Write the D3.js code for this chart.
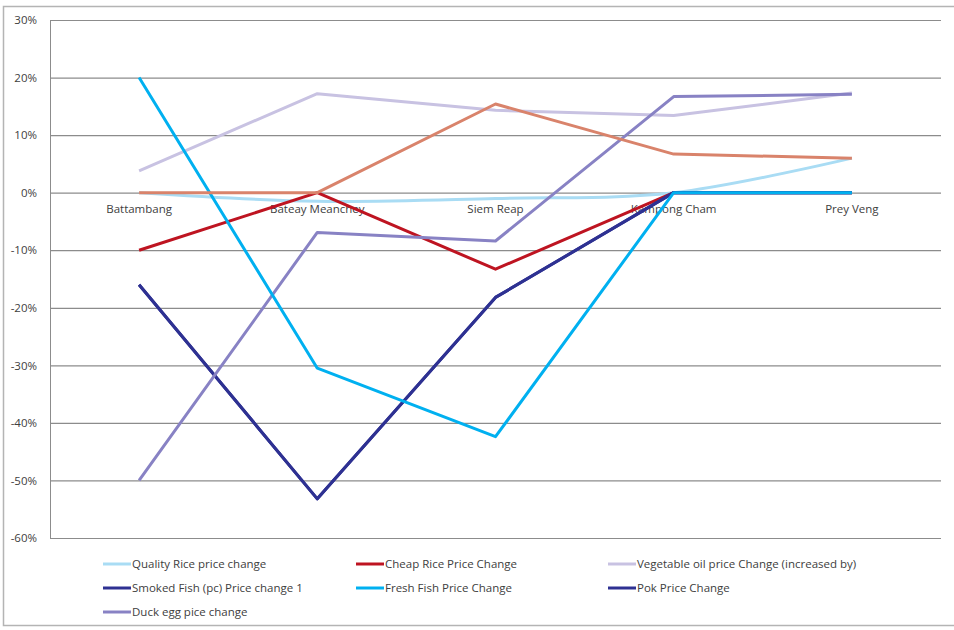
<!DOCTYPE html>
<html>
<head>
<meta charset="utf-8">
<script src="https://cdn.jsdelivr.net/npm/d3@7"></script>
<style>
  body { margin: 0; background: #fff; }
  svg text { font-family: "Open Sans", "Noto Sans", sans-serif; fill: #404040; }
</style>
</head>
<body>
<svg id="chart"></svg>
<script>
// Districts on the x axis
const districts = ['Battambang', 'Bateay Meanchey', 'Siem Reap', 'Kampong Cham', 'Prey Veng'];

// Price change per district, in percent
const qualityRice = [0, -1.5, -1.0, 0, 6.0];
const cheapRice = [-10.0, 0, -13.3, 0, 0];
const vegetableOil = [3.8, 17.2, 14.3, 13.4, 17.3];
const smokedFish = [-16.0, -53.2, -18.2, 0, 0];
const freshFish = [20.0, -30.5, -42.4, 0, 0];
const pok = [-16.0, -53.2, -18.2, 0, 0];
const duckEgg = [-50.0, -6.9, -8.4, 16.7, 17.1];
const unlabelled = [0, 0, 15.4, 6.7, 6.0];

const yTicks = [30, 20, 10, 0, -10, -20, -30, -40, -50, -60];

// legend order; 'z' is the drawing order (fresh fish ends up on top of the 0% run)
const series = [
   { name: 'Quality Rice price change', values: qualityRice, color: '#a9dcf4', smooth: true, z: 0 },
   { name: 'Cheap Rice Price Change', values: cheapRice, color: '#be1421', z: 1 },
   { name: 'Vegetable oil  price Change (increased by)', values: vegetableOil, color: '#c8c2e2', z: 2 },
   { name: 'Smoked Fish (pc) Price change 1', values: smokedFish, color: '#2e3192', z: 3 },
   { name: 'Fresh Fish Price Change', values: freshFish, color: '#00b0f0', z: 6 },
   { name: 'Pok Price Change', values: pok, color: '#2e3192', z: 4 },
   { name: 'Duck egg pice change', values: duckEgg, color: '#8882c4', z: 5 },
   { name: '', values: unlabelled, color: '#d9836b', noLegend: true, z: 7 },
];

class PriceChart {
   constructor(_config) {
      this.config = {
         parentElement: _config.parentElement,
         containerWidth: 954,
         containerHeight: 630,
         margin: { top: 20, right: 13, bottom: 92, left: 50 },
      };
      this.initVis();
   }

   initVis() {
      const vis = this;
      vis.width = vis.config.containerWidth - vis.config.margin.left - vis.config.margin.right;
      vis.height = vis.config.containerHeight - vis.config.margin.top - vis.config.margin.bottom;

      vis.svg = d3.select(vis.config.parentElement)
         .attr('width', vis.config.containerWidth)
         .attr('height', vis.config.containerHeight);

      // chart outline
      vis.svg.append('rect')
         .attr('x', 3.5).attr('y', 6.5)
         .attr('width', 960).attr('height', 619)
         .attr('fill', 'none')
         .attr('stroke', '#b4b4b4')
         .attr('stroke-width', 1.5);

      vis.chart = vis.svg.append('g')
         .attr('transform', `translate(${vis.config.margin.left}, ${vis.config.margin.top})`);

      vis.xScale = d3.scaleBand().domain(districts).range([0, vis.width]);
      vis.yScale = d3.scaleLinear().domain([-60, 30]).range([vis.height, 0]);

      // gridlines + y labels via axis
      vis.yAxis = d3.axisLeft(vis.yScale)
         .tickValues(yTicks)
         .tickSize(-vis.width)
         .tickPadding(13)
         .tickFormat(d => d + '%');

      vis.yAxisGroup = vis.chart.append('g').call(vis.yAxis);
      vis.yAxisGroup.select('.domain').attr('stroke', '#8c8c8c');
      vis.yAxisGroup.selectAll('.tick line').attr('stroke', '#8c8c8c').attr('stroke-width', 1.2);
      vis.yAxisGroup.selectAll('.tick text')
         .attr('font-size', 11.5)
         .attr('fill', '#404040')
         .style('font-family', '"Open Sans", sans-serif');

      // category labels sit just under the 0% line
      vis.xAxis = d3.axisBottom(vis.xScale).tickSize(0).tickPadding(12);
      vis.xAxisGroup = vis.chart.append('g')
         .attr('transform', `translate(0, ${vis.yScale(0)})`)
         .call(vis.xAxis);
      vis.xAxisGroup.select('.domain').remove();
      vis.xAxisGroup.selectAll('.tick text')
         .attr('font-size', 11.5)
         .attr('fill', '#404040')
         .style('font-family', '"Open Sans", sans-serif');

      vis.updateVis();
   }

   updateVis() {
      const vis = this;
      const xPos = d => vis.xScale(d) + vis.xScale.bandwidth() / 2;
      const drawOrder = series.slice().sort((a, b) => a.z - b.z);

      vis.chart.selectAll('.series')
         .data(drawOrder)
         .join('path')
         .attr('class', 'series')
         .attr('fill', 'none')
         .attr('stroke', d => d.color)
         .attr('stroke-width', 3)
         .attr('stroke-linejoin', 'round')
         .attr('d', d => d3.line()
            .x((v, i) => xPos(districts[i]))
            .y(v => vis.yScale(v))
            .curve(d.smooth ? d3.curveCatmullRom.alpha(0.5) : d3.curveLinear)(d.values));

      // legend, three columns
      const legendItems = series.filter(d => !d.noLegend);
      const colX = [103, 356, 608];
      const legend = vis.svg.selectAll('.legend-item')
         .data(legendItems)
         .join('g')
         .attr('class', 'legend-item')
         .attr('transform', (d, i) => `translate(${colX[i % 3]}, ${564 + Math.floor(i / 3) * 24})`);

      legend.append('line')
         .attr('x1', 0).attr('x2', 28)
         .attr('stroke', d => d.color)
         .attr('stroke-width', 3);

      legend.append('text')
         .attr('x', 29)
         .attr('dy', '0.35em')
         .attr('font-size', 11.5)
         .attr('fill', '#404040')
         .text(d => d.name);
   }
}

new PriceChart({ parentElement: '#chart' });
</script>
</body>
</html>
